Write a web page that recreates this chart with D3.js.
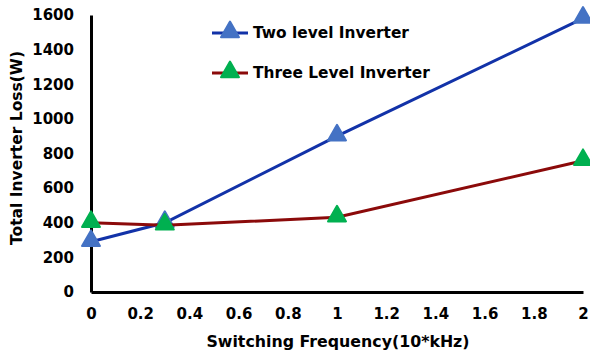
<!DOCTYPE html>
<html>
<head>
<meta charset="utf-8">
<script src="https://cdn.jsdelivr.net/npm/d3@7"></script>
<style>
body { margin: 0; background: #fff; }
text { font-family: "DejaVu Sans", Arial, sans-serif; font-weight: bold; }
</style>
</head>
<body>
<svg></svg>
<script>
var freq = [0, 0.3, 1, 2];
var twoLevel = [290, 400, 900, 1580];
var threeLevel = [400, 385, 432, 758];
var xTicks = [0, 0.2, 0.4, 0.6, 0.8, 1, 1.2, 1.4, 1.6, 1.8, 2];
var yTicks = [0, 200, 400, 600, 800, 1000, 1200, 1400, 1600];

var w = 590;
var h = 356;
var svg = d3.select('svg')
    .attr('width', w)
    .attr('height', h);

var x = d3.scaleLinear().domain([0, 2]).range([91, 583]);
var y = d3.scaleLinear().domain([0, 1600]).range([292, 15]);

var xAxis = svg.append('g')
    .attr('transform', 'translate(0,292)')
    .call(d3.axisBottom(x).tickValues(xTicks).tickSize(0).tickPadding(16)
        .tickFormat(function(d){ return String(+d.toFixed(1)) }));
xAxis.select('.domain').attr('stroke', '#000').attr('stroke-width', 3);
xAxis.selectAll('text').attr('font-size', 15).attr('fill', '#000');

var yAxis = svg.append('g')
    .attr('transform', 'translate(91,0)')
    .call(d3.axisLeft(y).tickValues(yTicks).tickSize(0).tickPadding(17).tickFormat(d3.format('d')));
yAxis.select('.domain').attr('stroke', '#000').attr('stroke-width', 3);
yAxis.selectAll('text').attr('font-size', 15).attr('fill', '#000');

svg.append('text')
    .attr('x', 338).attr('y', 347)
    .attr('text-anchor', 'middle')
    .attr('font-size', 15.8)
    .text('Switching Frequency(10*kHz)');

svg.append('text')
    .attr('transform', 'translate(22,148) rotate(-90)')
    .attr('text-anchor', 'middle')
    .attr('font-size', 15.5)
    .text('Total Inverter Loss(W)');

var series = [
    {name: 'Two level Inverter', values: twoLevel, line: '#1232a8', mark: '#4472c4'},
    {name: 'Three Level Inverter', values: threeLevel, line: '#8b0a0a', mark: '#00b050'}
];

var line = d3.line()
    .x(function(d, i){ return x(freq[i]) })
    .y(function(d){ return y(d) });

var tri = d3.symbol().type(d3.symbolTriangle).size(140);

series.forEach(function(s, k){
    svg.append('path')
        .attr('d', line(s.values))
        .attr('fill', 'none')
        .attr('stroke', s.line)
        .attr('stroke-width', 3);
    svg.selectAll('path.m' + k)
        .data(s.values)
        .enter()
        .append('path')
        .attr('class', 'm' + k)
        .attr('d', tri)
        .attr('transform', function(d, i){ return 'translate(' + x(freq[i]) + ',' + (y(d) - 1) + ')' })
        .attr('fill', s.mark)
        .attr('stroke', s.mark)
        .attr('stroke-linejoin', 'round')
        .attr('stroke-width', 2);

    var ly = 33 + k * 40;
    svg.append('line')
        .attr('x1', 212).attr('x2', 248)
        .attr('y1', ly).attr('y2', ly)
        .attr('stroke', s.line).attr('stroke-width', 3);
    svg.append('path')
        .attr('d', tri)
        .attr('transform', 'translate(230,' + (ly - 1) + ')')
        .attr('fill', s.mark).attr('stroke', s.mark)
        .attr('stroke-linejoin', 'round').attr('stroke-width', 2);
    svg.append('text')
        .attr('x', 253).attr('y', ly + 5)
        .attr('font-size', 15.4)
        .text(s.name);
});
</script>
</body>
</html>
